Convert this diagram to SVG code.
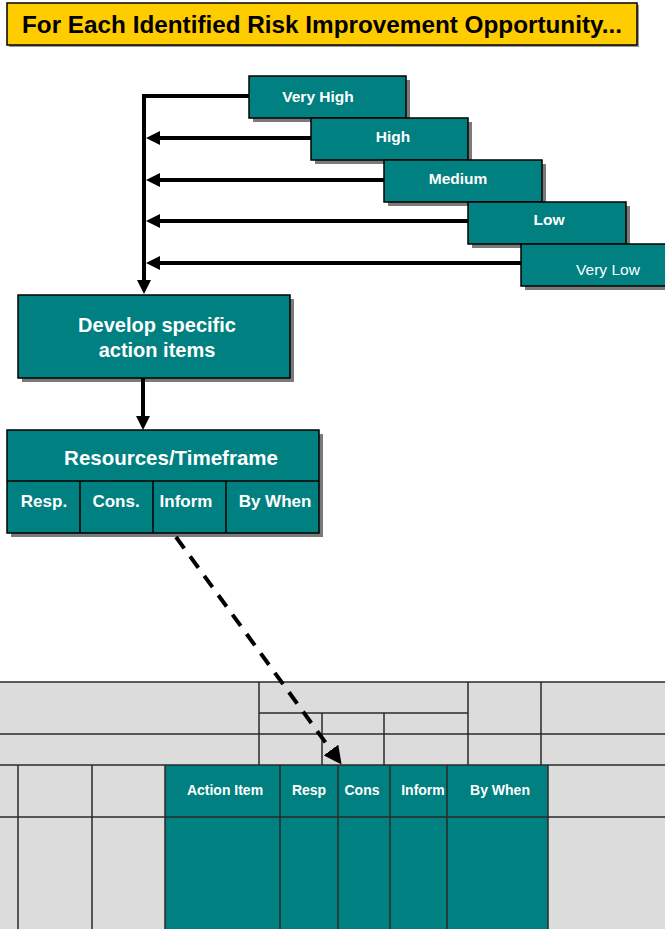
<svg xmlns="http://www.w3.org/2000/svg" width="665" height="929" viewBox="0 0 665 929">
<style>
.box{fill:#008080;stroke:#000;stroke-width:1.5}
.shadow{fill:#7a7a7a}
.lbl{font-family:"Liberation Sans",Arial,sans-serif;font-weight:bold;fill:#fff;text-anchor:middle}
.conn{stroke:#000;stroke-width:4;fill:none}
.grid{stroke:#2a2a2a;stroke-width:1.5;fill:none}
</style>
<defs>
<marker id="ah" markerUnits="userSpaceOnUse" markerWidth="14" markerHeight="14" refX="0" refY="7" orient="auto">
<path d="M0,0 L14,7 L0,14 z" fill="#000"/>
</marker>
<marker id="ahd" markerUnits="userSpaceOnUse" markerWidth="18" markerHeight="18" refX="0" refY="9" orient="auto">
<path d="M0,0 L18,9 L0,18 z" fill="#000"/>
</marker>
</defs>
<rect width="665" height="929" fill="#fff"/>

<g id="title">
<rect x="9" y="5" width="630" height="42" fill="#999"/>
<rect x="7" y="3" width="630" height="42" fill="#ffcc00" stroke="#000" stroke-width="1.5"/>
<text x="322" y="33" font-family="'Liberation Sans',Arial,sans-serif" font-weight="bold" font-size="23" fill="#000" text-anchor="middle" textLength="600" lengthAdjust="spacingAndGlyphs">For Each Identified Risk Improvement Opportunity...</text>
</g>

<g id="table">
<rect x="0" y="682" width="665" height="247" fill="#dcdcdc"/>
<rect x="165" y="765" width="383" height="164" fill="#008080"/>
<path class="grid" d="M0,682 H665 M259,713 H468 M0,734 H665 M0,765 H665 M0,817 H665 M259,682 V765 M322,713 V765 M384,713 V765 M468,682 V765 M541,682 V765 M18,765 V929 M92,765 V929 M165,765 V929 M280,765 V929 M338,765 V929 M390,765 V929 M447,765 V929 M548,765 V929"/>
<g font-size="14">
<text class="lbl" x="225" y="795">Action Item</text>
<text class="lbl" x="309" y="795">Resp</text>
<text class="lbl" x="362" y="795">Cons</text>
<text class="lbl" x="423" y="795">Inform</text>
<text class="lbl" x="500" y="795">By When</text>
</g>
</g>

<g id="very-high">
<rect class="shadow" x="253" y="80" width="157" height="42"/>
<rect class="box" x="249" y="76" width="157" height="42"/>
<text class="lbl" x="318" y="102" font-size="15.5">Very High</text>
</g>
<g id="high">
<rect class="shadow" x="315" y="122" width="157" height="42"/>
<rect class="box" x="311" y="118" width="157" height="42"/>
<text class="lbl" x="393" y="142" font-size="15.5">High</text>
</g>
<g id="medium">
<rect class="shadow" x="388" y="164" width="158" height="42"/>
<rect class="box" x="384" y="160" width="158" height="42"/>
<text class="lbl" x="458" y="184" font-size="15.5">Medium</text>
</g>
<g id="low">
<rect class="shadow" x="472" y="206" width="158" height="42"/>
<rect class="box" x="468" y="202" width="158" height="42"/>
<text class="lbl" x="549" y="225" font-size="15.5">Low</text>
</g>
<g id="very-low">
<rect class="shadow" x="525" y="248" width="160" height="42"/>
<rect class="box" x="521" y="244" width="160" height="42"/>
<text x="608" y="275" font-size="15.5" font-family="'Liberation Sans',Arial,sans-serif" fill="#fff" text-anchor="middle">Very Low</text>
</g>

<g id="develop">
<rect class="shadow" x="22" y="299" width="272" height="83"/>
<rect class="box" x="18" y="295" width="272" height="83"/>
<text class="lbl" x="157" y="332" font-size="20">Develop specific</text>
<text class="lbl" x="157" y="357" font-size="20">action items</text>
</g>

<g id="resources">
<rect class="shadow" x="11" y="434" width="312" height="103"/>
<rect class="box" x="7" y="430" width="312" height="103"/>
<path d="M7,481 H319 M80,481 V533 M153,481 V533 M226,481 V533" stroke="#000" stroke-width="1.5" fill="none"/>
<text class="lbl" x="171" y="465" font-size="20.5">Resources/Timeframe</text>
<text class="lbl" x="44" y="507" font-size="17">Resp.</text>
<text class="lbl" x="116" y="507" font-size="17">Cons.</text>
<text class="lbl" x="186" y="507" font-size="17">Inform</text>
<text class="lbl" x="275" y="507" font-size="17">By When</text>
</g>

<g id="connectors">
<path class="conn" d="M249,96 H144 V280" marker-end="url(#ah)"/>
<path class="conn" d="M311,138 H160" marker-end="url(#ah)"/>
<path class="conn" d="M384,180 H160" marker-end="url(#ah)"/>
<path class="conn" d="M468,221 H160" marker-end="url(#ah)"/>
<path class="conn" d="M521,263 H160" marker-end="url(#ah)"/>
<path class="conn" d="M143,378 V416" marker-end="url(#ah)"/>
<path class="conn" d="M176,537 L331,750" stroke-dasharray="14 10" marker-end="url(#ahd)"/>
</g>
</svg>
